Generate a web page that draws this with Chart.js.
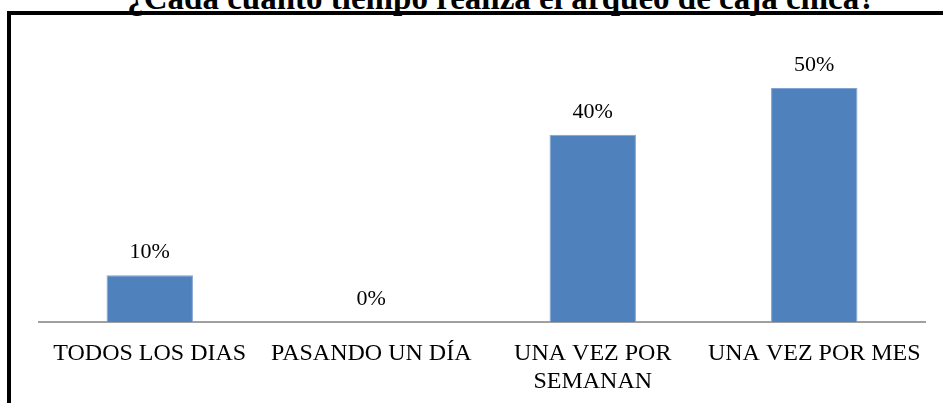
<!DOCTYPE html>
<html><head><meta charset="utf-8">
<script src="https://cdn.jsdelivr.net/npm/chart.js@4"></script>
<style>
html,body{margin:0;padding:0;background:#fff;overflow:hidden;}
#wrap{position:relative;width:943px;height:403px;overflow:hidden;background:#fff;}
#frame{position:absolute;left:7px;top:11px;width:1000px;height:500px;border:4px solid #000;box-sizing:border-box;}
#title{position:absolute;left:30px;width:943px;text-align:center;top:-18px;font-family:"Liberation Serif","Times New Roman",serif;font-weight:bold;font-size:33px;line-height:33px;color:#000;white-space:nowrap;}
#c{position:absolute;left:0;top:0;}
</style></head><body>
<div id="wrap">
<div id="title">¿Cada cuánto tiempo realiza el arqueo de caja chica?</div>
<div id="frame"></div>
<canvas id="c" width="943" height="403"></canvas>
</div>
<script>
const categories = ['TODOS LOS DIAS', 'PASANDO UN DÍA', ['UNA VEZ POR', 'SEMANAN'], 'UNA VEZ POR MES'];
const values = [10, 0, 40, 50];
const valueLabels = ['10%', '0%', '40%', '50%'];

const FAMILY = '"Liberation Serif", "Times New Roman", serif';

const labelPlugin = {
  id: 'valLabels',
  afterDatasetsDraw(chart) {
    const ctx = chart.ctx;
    const meta = chart.getDatasetMeta(0);
    ctx.save();
    ctx.font = '22px ' + FAMILY;
    ctx.fillStyle = '#000';
    ctx.textAlign = 'center';
    ctx.textBaseline = 'alphabetic';
    meta.data.forEach((bar, i) => {
      ctx.fillText(valueLabels[i], bar.x, bar.y - 17);
    });
    ctx.restore();
  }
};

function build() {
  new Chart(document.getElementById('c'), {
    type: 'bar',
    data: {
      labels: categories,
      datasets: [{
        data: values,
        backgroundColor: '#4F81BD',
        borderColor: '#7FA3D3',
        borderWidth: 1,
        categoryPercentage: 1,
        barPercentage: 0.39
      }]
    },
    options: {
      responsive: false,
      animation: false,
      layout: { padding: { left: 39, right: 18, top: 30, bottom: 0 } },
      plugins: { legend: { display: false }, tooltip: { enabled: false }, title: { display: false } },
      scales: {
        x: {
          grid: { display: false, drawTicks: false },
          border: { display: true, color: '#A0A0A0', width: 2 },
          ticks: {
            color: '#000',
            padding: 17,
            maxRotation: 0,
            autoSkip: false,
            font: { family: FAMILY, size: 24, lineHeight: 1.2 }
          },
          afterFit(scale) { scale.height = 81; }
        },
        y: { display: false, min: 0, max: 62.4 }
      }
    },
    plugins: [labelPlugin]
  });
}

Promise.all([
  document.fonts.load('24px "Liberation Serif"'),
  document.fonts.load('bold 33px "Liberation Serif"')
]).then(build, build);
</script>
</body></html>
